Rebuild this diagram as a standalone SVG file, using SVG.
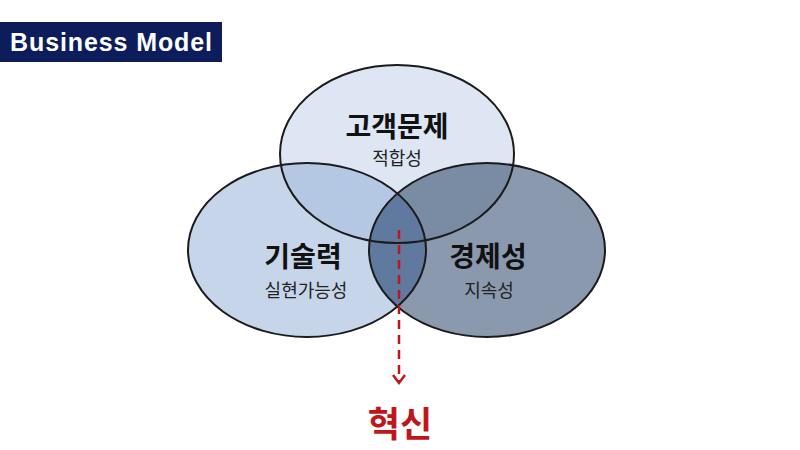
<svg xmlns="http://www.w3.org/2000/svg" width="800" height="450" viewBox="0 0 800 450">
<style>
.ol{fill:none;stroke:#1b1b1b;stroke-width:2}
.h{font-family:"Noto Sans CJK KR","Noto Sans",sans-serif;font-weight:700;font-size:28px;fill:#111;text-anchor:middle}
.s{font-family:"Noto Sans CJK KR","Noto Sans",sans-serif;font-weight:400;font-size:18px;fill:#222;text-anchor:middle}
.red{fill:none;stroke:#c0161b;stroke-width:2.5}
</style>
<defs>
<clipPath id="cT"><ellipse cx="397" cy="154" rx="117" ry="89"/></clipPath>
<clipPath id="cL"><ellipse cx="307" cy="250" rx="119" ry="87"/></clipPath>
</defs>
<rect width="800" height="450" fill="#fff"/>
<g id="title">
<rect x="0" y="22" width="222" height="40" fill="#0d1d5c"/>
<text x="10" y="51" font-family="Liberation Sans,Arial,sans-serif" font-weight="700" font-size="25" letter-spacing="0.9" fill="#fff">Business Model</text>
</g>
<g id="fills">
<ellipse cx="397" cy="154" rx="117" ry="89" fill="#dde6f2"/>
<ellipse cx="307" cy="250" rx="119" ry="87" fill="#c6d5ea"/>
<ellipse cx="487" cy="250" rx="118" ry="87" fill="#8a99ae"/>
<ellipse cx="307" cy="250" rx="119" ry="87" fill="#b4c8e3" clip-path="url(#cT)"/>
<ellipse cx="487" cy="250" rx="118" ry="87" fill="#7a8ba4" clip-path="url(#cT)"/>
<ellipse cx="487" cy="250" rx="118" ry="87" fill="#607a9f" clip-path="url(#cL)"/>
</g>
<g id="node-top">
<ellipse class="ol" cx="397" cy="154" rx="117" ry="89"/>
<text class="h" x="397" y="137">고객문제</text>
<text class="s" x="397" y="165">적합성</text>
</g>
<g id="node-left">
<ellipse class="ol" cx="307" cy="250" rx="119" ry="87"/>
<text class="h" x="303" y="267">기술력</text>
<text class="s" x="306" y="297">실현가능성</text>
</g>
<g id="node-right">
<ellipse class="ol" cx="487" cy="250" rx="118" ry="87"/>
<text class="h" x="488" y="267">경제성</text>
<text class="s" x="489" y="297">지속성</text>
</g>
<g id="connectors">
<line class="red" x1="399" y1="230" x2="399" y2="382" stroke-dasharray="9,6"/>
<path class="red" d="M393,375 L399,383 L405,375"/>
</g>
<g id="node-innovation">
<text x="400" y="437" font-family="Noto Sans CJK KR,sans-serif" font-weight="700" font-size="35" fill="#c0161b" text-anchor="middle">혁신</text>
</g>
</svg>
